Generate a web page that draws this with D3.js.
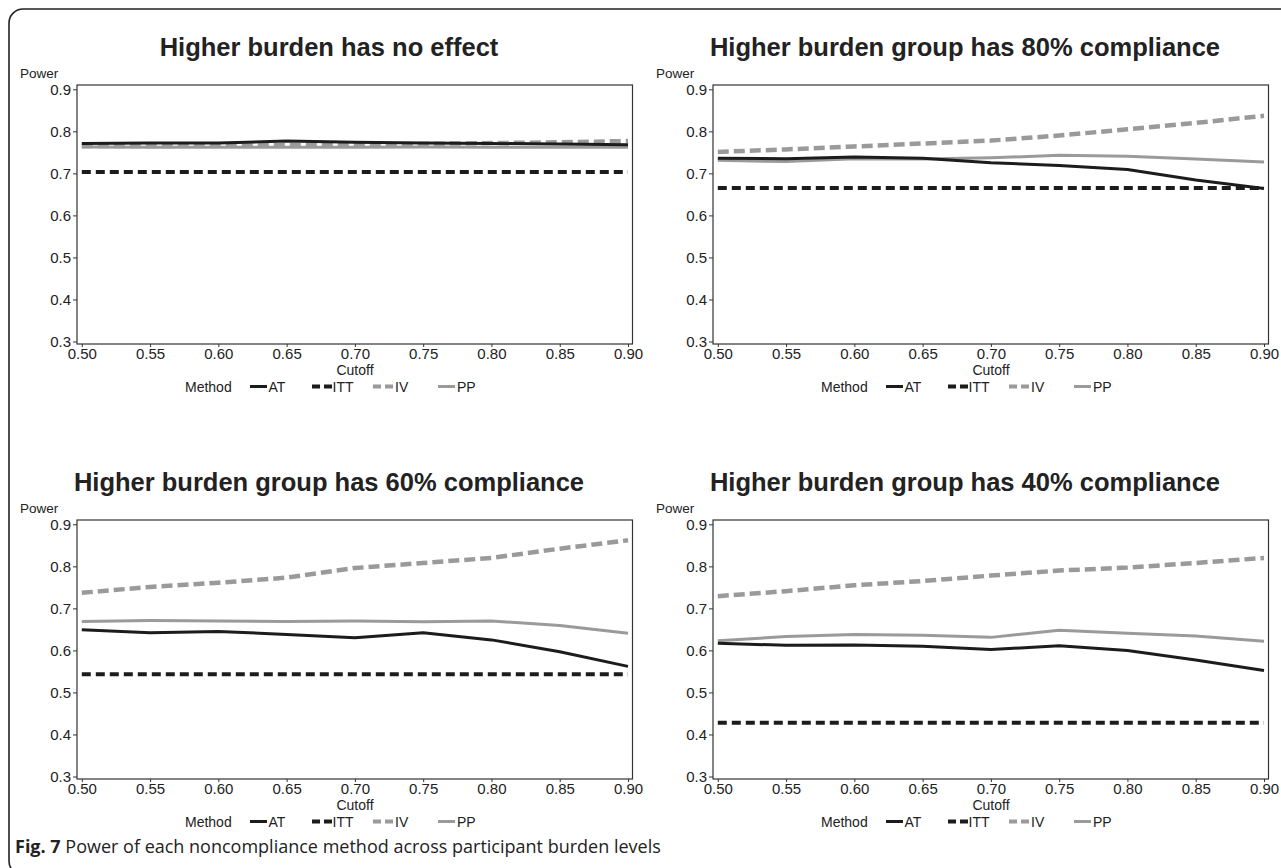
<!DOCTYPE html>
<html>
<head>
<meta charset="utf-8">
<script src="https://cdn.jsdelivr.net/npm/d3@7"></script>
<style>
  html, body { margin: 0; padding: 0; background: #fff; }
  svg { display: block; }
</style>
</head>
<body>
<svg id="chart" width="1281" height="868"></svg>
<script>
// Cutoff values on the x axis
const cutoffs = [0.50, 0.55, 0.60, 0.65, 0.70, 0.75, 0.80, 0.85, 0.90];
const cutoffTicks = ["0.50", "0.55", "0.60", "0.65", "0.70", "0.75", "0.80", "0.85", "0.90"];
const powerTicks = [0.3, 0.4, 0.5, 0.6, 0.7, 0.8, 0.9];
const methods = ["AT", "ITT", "IV", "PP"];

const panelTitles = [
  "Higher burden has no effect",
  "Higher burden group has 80% compliance",
  "Higher burden group has 60% compliance",
  "Higher burden group has 40% compliance"
];

// Power by method, one array per panel
const noEffectAT  = [0.771, 0.772, 0.772, 0.777, 0.774, 0.772, 0.771, 0.770, 0.768];
const noEffectITT = [0.703, 0.703, 0.703, 0.703, 0.703, 0.703, 0.703, 0.703, 0.703];
const noEffectIV  = [0.765, 0.765, 0.766, 0.767, 0.768, 0.770, 0.772, 0.774, 0.777];
const noEffectPP  = [0.763, 0.762, 0.762, 0.762, 0.762, 0.763, 0.762, 0.762, 0.762];

const comp80AT  = [0.736, 0.735, 0.739, 0.736, 0.725, 0.719, 0.709, 0.684, 0.664];
const comp80ITT = [0.665, 0.665, 0.665, 0.665, 0.665, 0.665, 0.665, 0.665, 0.665];
const comp80IV  = [0.751, 0.757, 0.764, 0.771, 0.778, 0.790, 0.805, 0.820, 0.837];
const comp80PP  = [0.731, 0.728, 0.735, 0.734, 0.737, 0.743, 0.741, 0.734, 0.727];

const comp60AT  = [0.649, 0.642, 0.645, 0.638, 0.630, 0.642, 0.625, 0.597, 0.562];
const comp60ITT = [0.543, 0.543, 0.543, 0.543, 0.543, 0.543, 0.543, 0.543, 0.543];
const comp60IV  = [0.737, 0.751, 0.761, 0.773, 0.796, 0.808, 0.820, 0.842, 0.862];
const comp60PP  = [0.669, 0.671, 0.670, 0.669, 0.670, 0.668, 0.670, 0.659, 0.641];

const comp40AT  = [0.617, 0.612, 0.613, 0.610, 0.602, 0.611, 0.600, 0.577, 0.552];
const comp40ITT = [0.428, 0.428, 0.428, 0.428, 0.428, 0.428, 0.428, 0.428, 0.428];
const comp40IV  = [0.729, 0.741, 0.755, 0.765, 0.778, 0.790, 0.797, 0.808, 0.820];
const comp40PP  = [0.623, 0.633, 0.638, 0.636, 0.631, 0.648, 0.641, 0.634, 0.622];

const panelSeries = [
  [noEffectAT, noEffectITT, noEffectIV, noEffectPP],
  [comp80AT, comp80ITT, comp80IV, comp80PP],
  [comp60AT, comp60ITT, comp60IV, comp60PP],
  [comp40AT, comp40ITT, comp40IV, comp40PP]
];

// Line style per method
const styles = {
  AT:  { color: "#1c1c1c", dash: null,   width: 3 },
  ITT: { color: "#1c1c1c", dash: "9,5",  width: 4 },
  IV:  { color: "#9a9a9b", dash: "11,5", width: 4.5 },
  PP:  { color: "#9a9a9b", dash: null,   width: 3 }
};

const font = "'Liberation Sans', Arial, sans-serif";
const svg = d3.select("#chart");

// Outer figure frame
svg.append("rect")
  .attr("x", 9).attr("y", 9)
  .attr("width", 1300).attr("height", 866)
  .attr("rx", 14).attr("ry", 14)
  .attr("fill", "none").attr("stroke", "#222").attr("stroke-width", 1.6);

const panelOrigins = [[0, 0], [636, 0], [0, 435], [636, 435]];

function drawPanel(idx) {
  const [ox, oy] = panelOrigins[idx];
  const g = svg.append("g").attr("transform", `translate(${ox},${oy})`);

  const x = d3.scaleLinear().domain([0.5, 0.9]).range([81.8, 628]);
  const y = d3.scaleLinear().domain([0.3, 0.9]).range([341.5, 89.3]);
  const boxL = 77, boxR = 632.5, boxT = 85, boxB = 344;

  g.append("text")
    .attr("x", 329).attr("y", 56)
    .attr("text-anchor", "middle")
    .attr("font-family", font).attr("font-weight", "bold").attr("font-size", 25.5)
    .attr("fill", "#222")
    .text(panelTitles[idx]);

  g.append("text")
    .attr("x", 20).attr("y", 78)
    .attr("font-family", font).attr("font-size", 13.5).attr("fill", "#222")
    .text("Power");

  // frame
  g.append("rect")
    .attr("x", boxL).attr("y", boxT)
    .attr("width", boxR - boxL).attr("height", boxB - boxT)
    .attr("fill", "none").attr("stroke", "#333").attr("stroke-width", 1.2);

  // axes
  const yAxis = d3.axisLeft(y).tickValues(powerTicks).tickFormat(d3.format(".1f")).tickSize(4).tickPadding(2);
  const yg = g.append("g").attr("transform", `translate(${boxL},0)`).call(yAxis);
  const xAxis = d3.axisBottom(x).tickValues(cutoffs).tickFormat((d, i) => cutoffTicks[i]).tickSize(3).tickPadding(1);
  const xg = g.append("g").attr("transform", `translate(0,${boxB})`).call(xAxis);
  [yg, xg].forEach(a => {
    a.select(".domain").remove();
    a.selectAll(".tick line").attr("stroke", "#333");
    a.selectAll("text").attr("font-family", font).attr("font-size", 15).attr("fill", "#222");
  });

  g.append("text")
    .attr("x", 355).attr("y", 375)
    .attr("text-anchor", "middle")
    .attr("font-family", font).attr("font-size", 14).attr("fill", "#222")
    .text("Cutoff");

  // series
  const line = d3.line().x((d, i) => x(cutoffs[i])).y(d => y(d));
  const order = [2, 3, 0, 1];
  order.forEach(k => {
    const m = methods[k];
    const s = styles[m];
    g.append("path")
      .datum(panelSeries[idx][k])
      .attr("d", line)
      .attr("fill", "none")
      .attr("stroke", s.color)
      .attr("stroke-width", s.width)
      .attr("stroke-dasharray", s.dash)
      .attr("stroke-linejoin", "round");
  });

  // legend
  const ly = 386.5;
  const lg = g.append("g");
  lg.append("text").attr("x", 185).attr("y", ly + 5)
    .attr("font-family", font).attr("font-size", 14).attr("fill", "#222").text("Method");
  const items = [
    { m: "AT",  x1: 250, x2: 267, tx: 268.5 },
    { m: "ITT", x1: 312, x2: 332, tx: 332.5 },
    { m: "IV",  x1: 373, x2: 393, tx: 395 },
    { m: "PP",  x1: 438, x2: 455, tx: 457 }
  ];
  items.forEach(it => {
    const s = styles[it.m];
    lg.append("line")
      .attr("x1", it.x1).attr("x2", it.x2).attr("y1", ly).attr("y2", ly)
      .attr("stroke", s.color).attr("stroke-width", s.dash ? 4 : 3)
      .attr("stroke-dasharray", s.dash ? "8,4" : null);
    lg.append("text").attr("x", it.tx).attr("y", ly + 5)
      .attr("font-family", font).attr("font-size", 14).attr("fill", "#222").text(it.m);
  });
}

[0, 1, 2, 3].forEach(drawPanel);

// Figure caption
const cap = svg.append("text")
  .attr("x", 15).attr("y", 853)
  .attr("font-family", "'Open Sans', 'Noto Sans', sans-serif")
  .attr("font-size", 18).attr("fill", "#222");
cap.append("tspan").attr("font-weight", "bold").text("Fig. 7");
cap.append("tspan").text(" Power of each noncompliance method across participant burden levels");
</script>
</body>
</html>
